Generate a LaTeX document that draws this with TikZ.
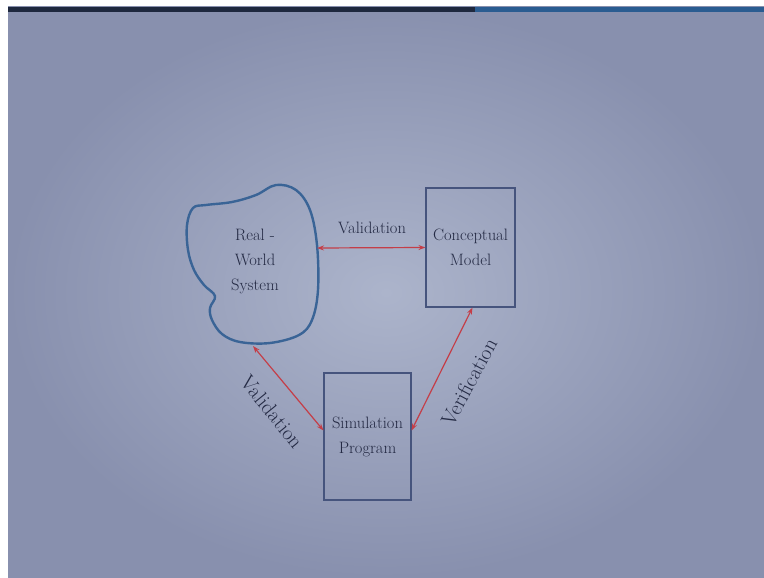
\documentclass[tikz,border=0pt]{standalone}
\usetikzlibrary{arrows.meta}
\definecolor{slideouter}{RGB}{136,144,174}
\definecolor{slideinner}{RGB}{172,180,203}
\definecolor{txtcol}{RGB}{36,42,68}
\definecolor{boxcol}{RGB}{70,84,125}
\definecolor{blobcol}{RGB}{58,100,150}
\definecolor{arrcol}{RGB}{196,62,72}
\definecolor{barnavy}{RGB}{30,40,62}
\definecolor{barblue}{RGB}{42,92,145}
\tikzset{
  x=1pt, y=-1pt,
  lbl/.style={text=txtcol, font=\fontsize{16.5}{25}\selectfont, align=center, inner sep=0pt},
  biglbl/.style={text=txtcol, font=\fontsize{21}{25}\selectfont, inner sep=0pt},
  boxnode/.style={draw=boxcol, line width=1.1pt, minimum width=89pt, minimum height=119pt, lbl},
  relarrow/.style={draw=arrcol, line width=1.2pt, {Stealth[length=7pt,width=5pt]}-{Stealth[length=7pt,width=5pt]}},
}
\begin{document}
\begin{tikzpicture}
\useasboundingbox (0,0) rectangle (764,578);
\fill[white] (0,0) rectangle (764,578);
\shade[inner color=slideinner, outer color=slideouter] (8,7) rectangle (764,578);
\fill[barnavy] (8,7) rectangle (475,12);
\fill[barblue] (475,7) rectangle (764,12);

% real-world system blob
\draw[blobcol, line width=2.4pt] plot[smooth cycle, tension=0.6] coordinates {
 (187,225) (193,208) (206,205) (232,202) (256,195) (276,185) (296,190) (310,210) (317,245)
 (318,290) (312,320) (299,335) (270,343) (240,342) (222,334) (212,320) (210,308) (215,296)
 (204,285) (194,270) (188,250)};
\node[lbl] (rws) at (255,261) {Real -\\World\\System};
\coordinate (rwsE) at (317,248);
\coordinate (rwsS) at (253,346);

\node[boxnode] (cm) at (470.5,247.5) {Conceptual\\Model};
\node[boxnode, minimum width=87pt, minimum height=127pt] (sp) at (367.5,436.5) {Simulation\\Program};

\draw[relarrow] (rwsE) -- (cm.west);
\draw[relarrow] (rwsS) -- ([yshift=6pt]sp.west);
\draw[relarrow] ([xshift=2pt]cm.south) -- ([yshift=6pt]sp.east);

\node[lbl] (v1) at (372,228) {Validation};
\node[biglbl, rotate=-51] (v2) at (272,412) {Validation};
\node[biglbl, rotate=62] (ver) at (469,382) {Verification};
\end{tikzpicture}
\end{document}
